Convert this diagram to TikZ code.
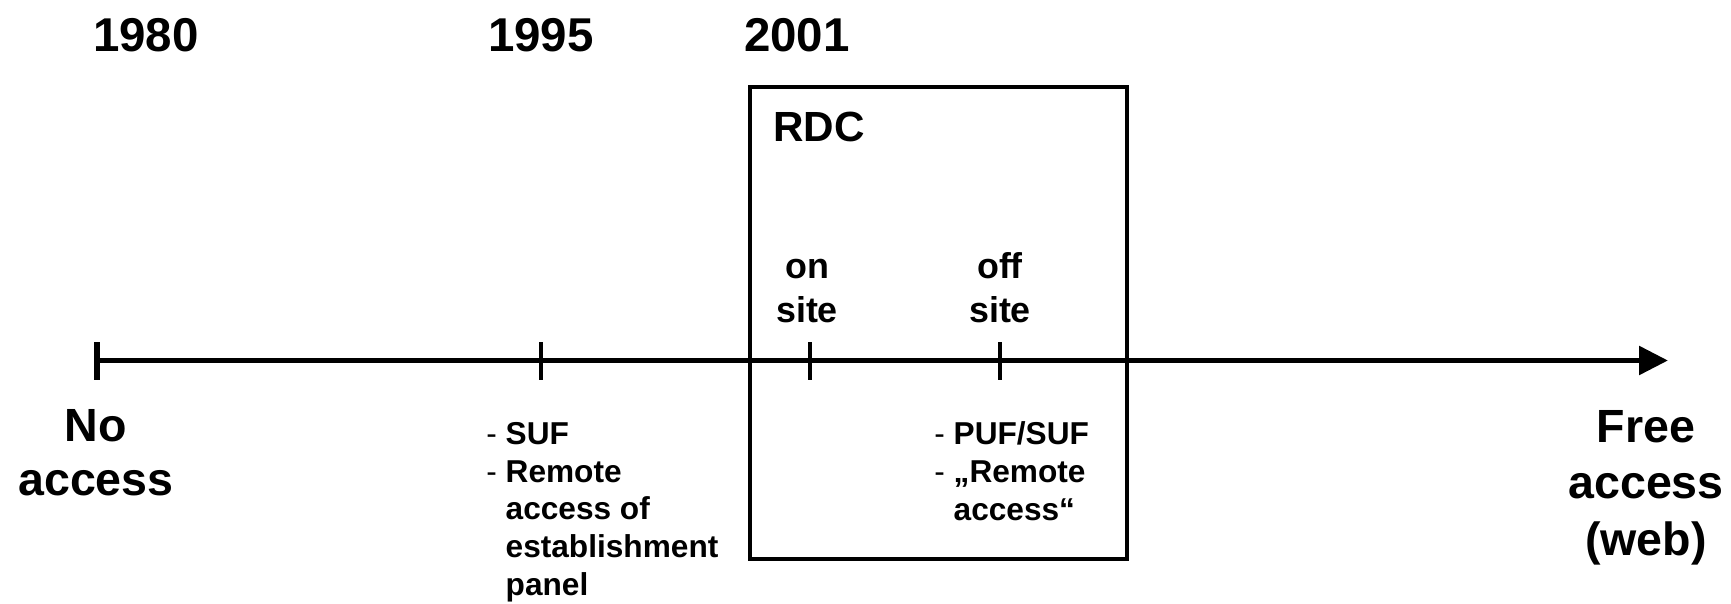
\documentclass[tikz,border=0pt]{standalone}
\usepackage{fontspec}
\setmainfont{Liberation Sans}
\usetikzlibrary{arrows.meta}

% list bullets as in the slide
\newcommand{\itm}{\textmd{-}\ }
\newcommand{\itmgap}{\hphantom{\textmd{-}\ }}

\begin{document}
\begin{tikzpicture}[
    font=\bfseries,
    axis/.style={line width=3.2pt,-{Triangle[length=5.8mm,width=5.6mm]}},
    tick/.style={line width=2pt},
    rdcbox/.style={draw, line width=2.2pt, inner sep=0pt},
    year/.style={font=\bfseries\fontsize{27}{32}\selectfont, inner sep=0pt, anchor=base},
    endlabel/.style={font=\bfseries\fontsize{26.5}{30.7}\selectfont,
      align=center, inner sep=0pt, anchor=base},
    sitelabel/.style={font=\bfseries\fontsize{20.4}{25}\selectfont,
      align=center, inner sep=0pt, anchor=base},
    itemlist/.style={font=\bfseries\fontsize{18}{21.5}\selectfont,
      align=left, inner sep=0pt, anchor=base west}
  ]

  \path[use as bounding box] (0,0) rectangle (34.62,12.06);

  % Axis row
  \def\yAxis{4.85}

  % =====================================================
  % TICK POSITIONS
  % =====================================================
  \def\xNo{1.94}
  \def\xSuf{10.82}
  \def\xOn{16.2}
  \def\xOff{20.0}
  \def\xEnd{33.36}

  \coordinate (start) at (\xNo,\yAxis);
  \coordinate (sufmark) at (\xSuf,\yAxis);
  \coordinate (onmark) at (\xOn,\yAxis);
  \coordinate (offmark) at (\xOff,\yAxis);
  \coordinate (end) at (\xEnd,\yAxis);

  % =====================================================
  % RDC BOX
  % =====================================================
  \node[rdcbox, minimum width=7.54cm, minimum height=9.44cm]
  (rdc) at (18.77,5.6) {};

  \node[font=\bfseries\fontsize{24}{28}\selectfont, inner sep=0pt,
  anchor=base west] (rdclabel) at (15.46,9.22) {RDC};

  % =====================================================
  % AXIS
  % =====================================================
  \draw[axis] (start) -- (end);

  \draw[tick, line width=3.2pt] ([yshift=3.7mm]start) -- ([yshift=-3.9mm]start);
  \foreach \p in {sufmark,onmark,offmark}{
    \draw[tick] ([yshift=3.7mm]\p) -- ([yshift=-3.9mm]\p);
  }

  % =====================================================
  % YEARS
  % =====================================================
  \node[year] (y1980) at (2.92,11.02) {1980};
  \node[year] (y1995) at (\xSuf,11.02) {1995};
  \node[year] (y2001) at (15.94,11.02) {2001};

  % =====================================================
  % LABELS
  % =====================================================
  \node[sitelabel] (onsite) at (16.14,5.62) {on\\site};
  \node[sitelabel] (offsite) at (\xOff,5.62) {off\\site};

  \node[endlabel] (noaccess) at (1.92,2.16) {No\\access};
  \node[endlabel, font=\bfseries\fontsize{26.5}{32}\selectfont]
  (freeaccess) at (32.92,0.96) {Free\\access\\(web)};

  \node[itemlist] (sufitems) at (9.72,0.15)
  {\itm SUF\\\itm Remote\\\itmgap access of\\\itmgap establishment\\\itmgap panel};

  \node[itemlist] (pufitems) at (18.68,1.65)
  {\itm PUF/SUF\\\itm „Remote\\\itmgap access“};

\end{tikzpicture}
\end{document}
